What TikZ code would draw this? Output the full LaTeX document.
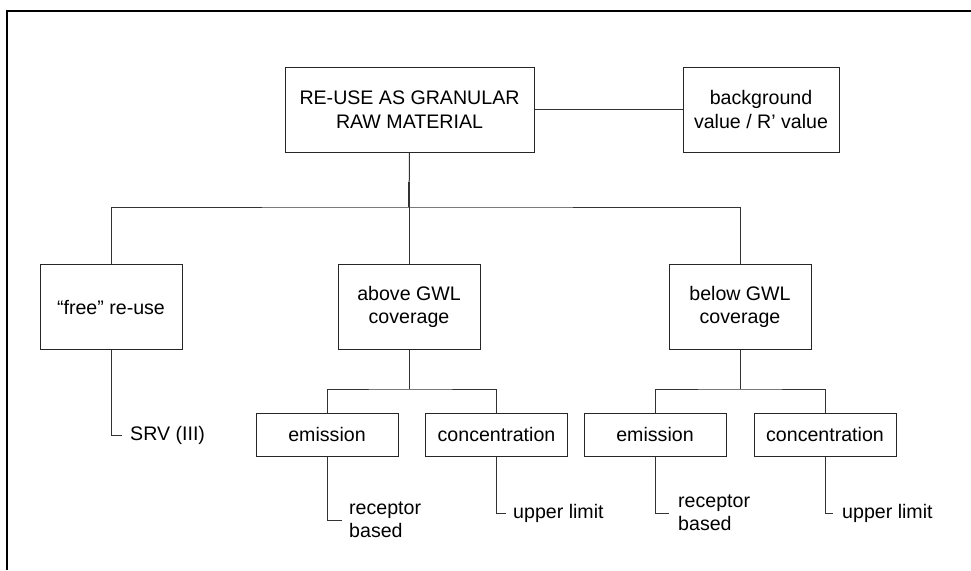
\documentclass[tikz,border=0pt]{standalone}
\usepackage{fontspec}
\setmainfont{Liberation Sans}
\begin{document}
\begin{tikzpicture}[x=1pt,y=-1pt,
  box/.style={draw=black!85,line width=1pt,rectangle,inner sep=0pt,align=center,
    font=\fontsize{19.6}{23.5}\selectfont,text=black},
  bigbox/.style={box,minimum height=85pt},
  smallbox/.style={box,minimum width=142pt,minimum height=43pt},
  leaf/.style={anchor=west,inner sep=0pt,align=left,font=\fontsize{19.6}{23.5}\selectfont,text=black},
  conn/.style={draw=black!80,line width=1pt},
  frame/.style={draw=black,line width=2pt}]
\useasboundingbox (0,0) rectangle (971,570);
% outer frame
\coordinate (fr1) at (971,10.7);
\coordinate (fr2) at (7.3,10.7);
\coordinate (fr3) at (7.3,570);
\draw[frame] (fr1) -- (fr2) -- (fr3);
% top level
\node[bigbox,minimum width=249pt] (top) at (409.5,109.5) {RE-USE AS GRANULAR\\RAW MATERIAL};
\node[bigbox,minimum width=156pt] (bg) at (761,109.5) {background\\value / R\textquoteright{} value};
% second level
\node[bigbox,minimum width=142pt] (free) at (111,307) {\textquotedblleft free\textquotedblright{} re-use};
\node[bigbox,minimum width=142pt] (above) at (409,307) {above GWL\\coverage};
\node[bigbox,minimum width=142pt] (below) at (740,307) {below GWL\\coverage};
% third level
\node[smallbox] (em1) at (327,434.5) {emission};
\node[smallbox] (co1) at (496.5,434.5) {concentration};
\node[smallbox] (em2) at (655,434.5) {emission};
\node[smallbox] (co2) at (825,434.5) {concentration};
% leaves
\node[leaf] (srv) at (130,435) {SRV (III)};
\node[leaf] (rb1) at (349,520) {receptor\\based};
\node[leaf] (ul1) at (513,513) {upper limit};
\node[leaf] (rb2) at (678,513) {receptor\\based};
\node[leaf] (ul2) at (842,513) {upper limit};
% connectors
\draw[conn] (top.east) -- (bg.west);
\coordinate (bus) at (409,207);
\coordinate (thick) at (409,182);
\draw[conn] (top.south) -- (bus);
\draw[conn,line width=2pt] (thick) -- (bus);
\draw[conn] (free.north) |- (bus) -| (below.north);
\draw[conn] (bus) -- (above.north);
\coordinate (bus2a) at (409,389);
\coordinate (bus2b) at (740,389);
\draw[conn] (above.south) -- (bus2a);
\draw[conn] (em1.north) |- (bus2a) -| (co1.north);
\draw[conn] (below.south) -- (bus2b);
\draw[conn] (em2.north) |- (bus2b) -| (co2.north);
% leaf connectors
\draw[conn] (free.south) |- ([xshift=-8pt]srv.west);
\draw[conn] (em1.south) |- ([xshift=-7pt]rb1.west);
\draw[conn] (co1.south) |- ([xshift=-7pt]ul1.west);
\draw[conn] (em2.south) |- ([xshift=-9pt]rb2.west);
\draw[conn] (co2.south) |- ([xshift=-9pt]ul2.west);
\end{tikzpicture}
\end{document}
